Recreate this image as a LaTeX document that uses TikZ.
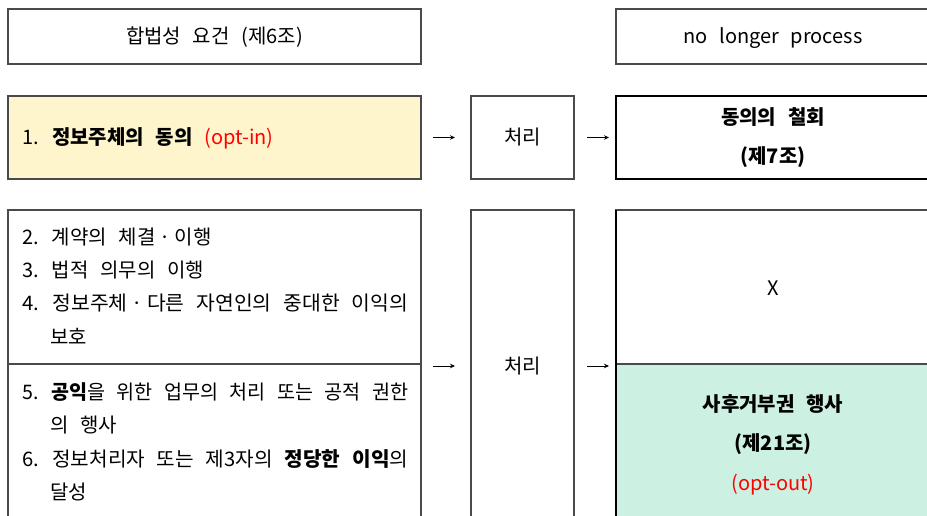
\documentclass[tikz,border=0pt]{standalone}
\usepackage{graphicx}
\usepackage{fontspec}
\setmainfont[WordSpace=2.6]{Noto Sans CJK KR}
\usetikzlibrary{arrows.meta,calc}
\definecolor{yel}{HTML}{FFF5CC}
\definecolor{grn}{HTML}{CCF0E1}
\definecolor{edge}{HTML}{4A4A4A}
\definecolor{optred}{HTML}{FF0000}
\tikzset{
  cell/.style={draw=edge, line width=1.1pt, anchor=north west, inner sep=0pt, outer sep=0pt},
  txt/.style={font=\fontsize{20}{24}\selectfont, inner sep=0pt, text height=15pt, text depth=3pt},
  ltxt/.style={txt, anchor=west},
  arr/.style={line width=0.7pt, -{Stealth[length=5pt,width=4.5pt]}},
}
\newcommand{\cellbox}[5]{\node[cell,#5, minimum width=#3pt-#1pt, minimum height=#4pt-#2pt] at (#1,#2)}
\newcommand{\fitline}[1]{\resizebox{386pt}{\height}{#1}}
\newcommand{\mdot}{\makebox[0.95em]{·}}
\begin{document}
\begin{tikzpicture}[x=1pt,y=-1pt]
\useasboundingbox (0,0) rectangle (927,516);
\clip (0,0) rectangle (927,516);
% boxes
\cellbox{8}{9}{421}{64}{} (req) {};
\cellbox{616}{9}{934}{64}{} (nolonger) {};
\cellbox{8}{96}{421}{179}{fill=yel} (consent) {};
\cellbox{471}{96}{574}{179}{} (proc1) {};
\cellbox{616}{96}{934}{179}{draw=black} (withdraw) {};
\cellbox{8}{210}{421}{364}{} (lawA) {};
\cellbox{8}{364}{421}{522}{} (lawB) {};
\cellbox{471}{210}{574}{522}{} (proc2) {};
\cellbox{616}{364}{934}{522}{fill=grn} (object) {};
\cellbox{616}{210}{934}{364}{} (xcell) {};
\draw[black, line width=1.1pt] (xcell.north west) -- (object.south west);
% texts
\node[txt] at ($(req.center)+(0,1)$) {합법성 요건 (제6조)};
\node[txt] at (773,38) {no longer process};
\node[ltxt] at (22,139) {1. \textbf{정보주체의 동의} \textcolor{optred}{(opt-in)}};
\node[txt] at ($(proc1.center)+(0,1)$) {처리};
\node[txt] at (773,119) {\textbf{동의의 철회}};
\node[txt] at (773,158) {\textbf{(제7조)}};
\node[ltxt] at (22,238) {2. 계약의 체결\mdot 이행};
\node[ltxt] at (22,271) {3. 법적 의무의 이행};
\node[ltxt] at (22,304) {\fitline{4. 정보주체\mdot 다른 자연인의 중대한 이익의}};
\node[ltxt] at (50,338) {보호};
\node[ltxt] at (22,393) {\fitline{5. \textbf{공익}을 위한 업무의 처리 또는 공적 권한}};
\node[ltxt] at (50,426) {의 행사};
\node[ltxt] at (22,460) {\fitline{6. 정보처리자 또는 제3자의 \textbf{정당한 이익}의}};
\node[ltxt] at (50,493) {달성};
\node[txt] at ($(proc2.center)+(0,1)$) {처리};
\node[txt] at (773,289) {X};
\node[txt] at (773,405) {\textbf{사후거부권 행사}};
\node[txt] at (773,444) {\textbf{(제21조)}};
\node[txt] at (773,484) {\textcolor{optred}{(opt-out)}};
% arrows
\draw[arr, shorten <=12pt, shorten >=16pt] (consent.east) -- (proc1.west);
\draw[arr, shorten <=13pt, shorten >=7pt] (proc1.east) -- (withdraw.west);
\draw[arr, shorten <=12pt, shorten >=16pt] (proc2.west -| lawA.east) -- (proc2.west);
\draw[arr, shorten <=13pt, shorten >=7pt] (proc2.east) -- (proc2.east -| xcell.south west);
\end{tikzpicture}
\end{document}
